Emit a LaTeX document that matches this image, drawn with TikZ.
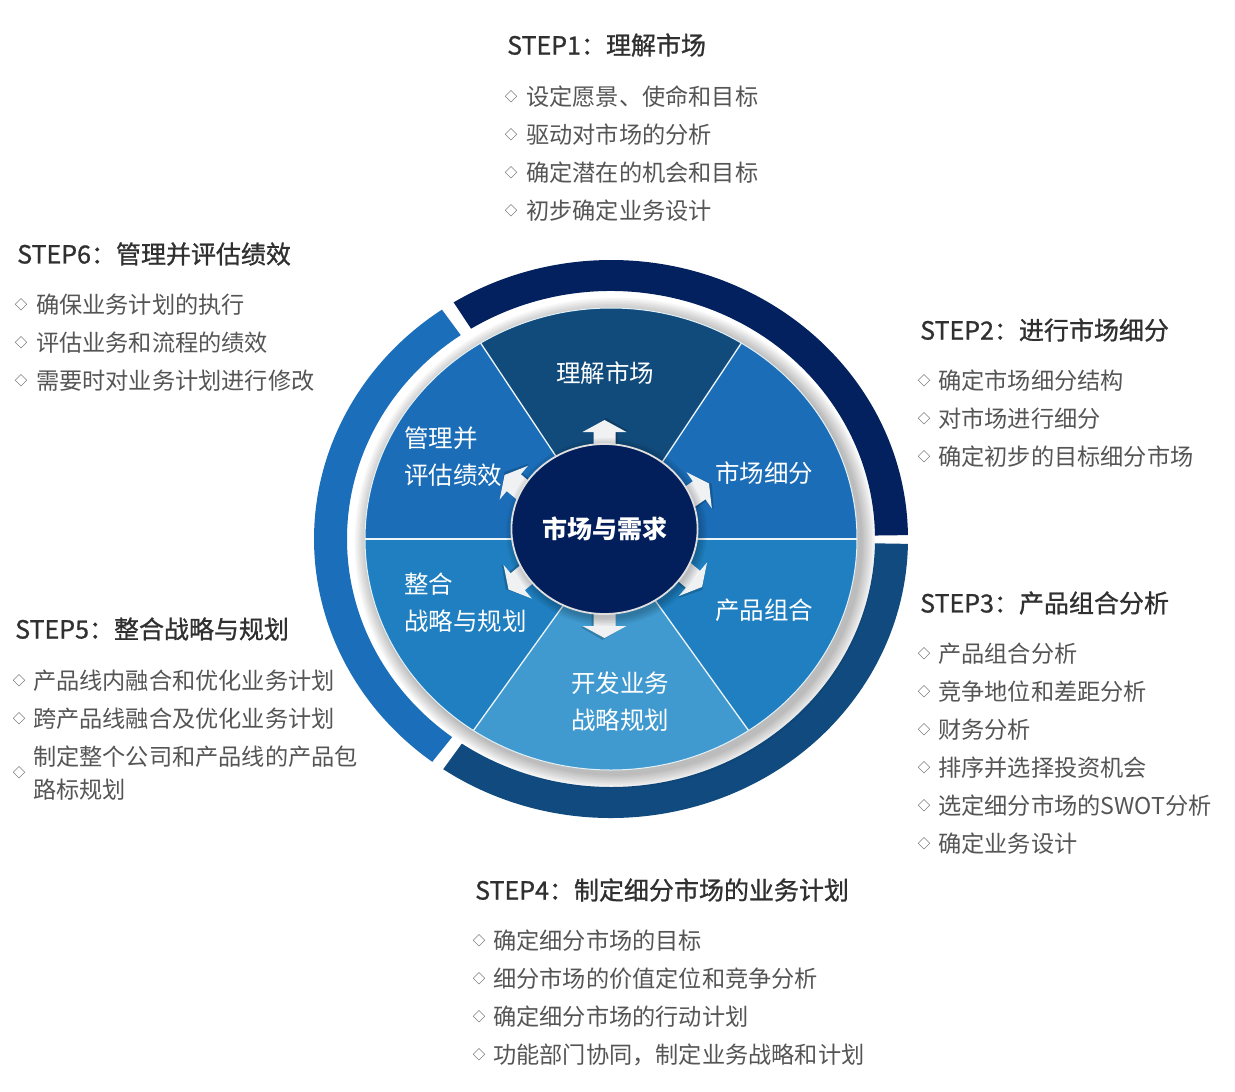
\documentclass[tikz,border=0pt]{standalone}
\usepackage{fontspec}
\setmainfont{Noto Sans CJK SC}
\usetikzlibrary{calc,shapes.geometric}
\definecolor{ringA}{HTML}{03215E}
\definecolor{ringB}{HTML}{104A7E}
\definecolor{ringC}{HTML}{1B6FBA}
\definecolor{secTop}{HTML}{114B7C}
\definecolor{secUp}{HTML}{1B6DB7}
\definecolor{secLow}{HTML}{1F7FC0}
\definecolor{secBot}{HTML}{409AD0}
\definecolor{hubc}{HTML}{021E5B}
\definecolor{headc}{HTML}{303030}
\definecolor{itemc}{HTML}{555555}
\definecolor{arrowc}{HTML}{F0F1F3}
\newcommand\ringseg[3]{\fill[#1] ([shift={(#2:297 and 279)}]W) arc[start angle=#2, end angle=#3, x radius=297, y radius=279] -- ([shift={(#3:264 and 248)}]W) arc[start angle=#3, end angle=#2, x radius=264, y radius=248] -- cycle;}
\newcommand\wheelsec[3]{\fill[#1] (W) -- ([shift={(#2:246 and 231)}]W) arc[start angle=#2, end angle=#3, x radius=246, y radius=231] -- cycle;}
\newcommand\hubarrow[2]{%
  \begin{scope}[shift={($(H)+(#1:91.5 and 85)$)}, rotate=#2]
    \fill[black, opacity=0.18] (-6,-13) -- (13,-13) -- (13,-24) -- (26,-2) -- (13,20) -- (13,9) -- (-6,9) -- cycle;
    \fill[arrowc] (-6,-11) -- (12,-11) -- (12,-22) -- (24,0) -- (12,22) -- (12,11) -- (-6,11) -- cycle;
  \end{scope}}
\begin{document}
\begin{tikzpicture}[x=1pt,y=1pt,
  heading/.style={anchor=west, text=headc, font=\fontsize{25}{28}\selectfont\addfontfeatures{FakeBold=0.9}, inner sep=0},
  item/.style={anchor=west, text=itemc, font=\fontsize{23.2}{33}\selectfont, inner sep=0, align=left},
  bullet/.style={text=itemc!80!black, font=\fontsize{12.5}{12}\selectfont, inner sep=0},
  seclabel/.style={text=white, font=\fontsize{24.5}{37}\selectfont, inner sep=0}]
\useasboundingbox (0,0) rectangle (1235,-1092);
\fill[white] (0,0) rectangle (1235,-1092);
\coordinate (W) at (611,-539);
\coordinate (H) at (604.5,-529);
% outer rings
\ringseg{ringA}{0.8}{122}
\ringseg{ringC}{124.7}{233}
\ringseg{ringB}{235.6}{359}
% wheel shadow
\foreach \i in {1,...,9} \fill[black, opacity=0.03] ([shift={(4,-4)}]W) ellipse[x radius={246+\i*1.6}, y radius={231+\i*1.6}];
% wheel sectors
\wheelsec{secUp}{0}{58}
\wheelsec{secTop}{58}{122}
\wheelsec{secUp}{122}{180}
\wheelsec{secLow}{180}{236}
\wheelsec{secBot}{236}{304}
\wheelsec{secLow}{304}{360}
\foreach \a in {0,58,122,180,236,304} \draw[white!90!secBot, line width=1.3] (W) -- ([shift={(\a:246 and 231)}]W);
\draw[white!85!secBot, line width=1] (W) ellipse[x radius=246, y radius=231];
% arrows
\hubarrow{90}{90}
\hubarrow{270}{270}
\hubarrow{22}{35}
\hubarrow{-30}{-40}
\hubarrow{153}{140}
\hubarrow{212}{220}
% hub
\foreach \i in {1,...,6} \fill[black, opacity=0.04] ([shift={(2,-3)}]H) ellipse[x radius={91.5+\i*1.5}, y radius={85+\i*1.5}];
\node[ellipse, minimum width=183, minimum height=170, fill=hubc, draw=white!75!gray, line width=1.8, text=white, font=\fontsize{25}{28}\selectfont\bfseries] (hub) at (H) {市场与需求};
% sector labels
\node[seclabel] (l1) at (605,-373) {理解市场};
\node[seclabel] (l2) at (764,-473) {市场细分};
\node[seclabel] (l3) at (764,-610) {产品组合};
\node[seclabel, align=center] (l4) at (620,-702) {开发业务\\战略规划};
\node[seclabel, align=left, anchor=west] (l5) at (404,-603) {整合\\战略与规划};
\node[seclabel, align=left, anchor=west] (l6) at (404,-457) {管理并\\评估绩效};
% STEP1
\node[heading] (h1) at (507,-45) {STEP1：理解市场};
\node[bullet] (b11) at (511,-97) {◇}; \node[item] (t11) at (526,-97) {设定愿景、使命和目标};
\node[bullet] (b12) at (511,-135) {◇}; \node[item] (t12) at (526,-135) {驱动对市场的分析};
\node[bullet] (b13) at (511,-173) {◇}; \node[item] (t13) at (526,-173) {确定潜在的机会和目标};
\node[bullet] (b14) at (511,-211) {◇}; \node[item] (t14) at (526,-211) {初步确定业务设计};
% STEP2
\node[heading] (h2) at (920,-330) {STEP2：进行市场细分};
\node[bullet] (b21) at (924,-381) {◇}; \node[item] (t21) at (938,-381) {确定市场细分结构};
\node[bullet] (b22) at (924,-419) {◇}; \node[item] (t22) at (938,-419) {对市场进行细分};
\node[bullet] (b23) at (924,-457) {◇}; \node[item] (t23) at (938,-457) {确定初步的目标细分市场};
% STEP3
\node[heading] (h3) at (920,-603) {STEP3：产品组合分析};
\node[bullet] (b31) at (924,-654) {◇}; \node[item] (t31) at (938,-654) {产品组合分析};
\node[bullet] (b32) at (924,-692) {◇}; \node[item] (t32) at (938,-692) {竞争地位和差距分析};
\node[bullet] (b33) at (924,-730) {◇}; \node[item] (t33) at (938,-730) {财务分析};
\node[bullet] (b34) at (924,-768) {◇}; \node[item] (t34) at (938,-768) {排序并选择投资机会};
\node[bullet] (b35) at (924,-806) {◇}; \node[item] (t35) at (938,-806) {选定细分市场的SWOT分析};
\node[bullet] (b36) at (924,-844) {◇}; \node[item] (t36) at (938,-844) {确定业务设计};
% STEP4
\node[heading] (h4) at (475,-890) {STEP4：制定细分市场的业务计划};
\node[bullet] (b41) at (479,-941) {◇}; \node[item] (t41) at (493,-941) {确定细分市场的目标};
\node[bullet] (b42) at (479,-979) {◇}; \node[item] (t42) at (493,-979) {细分市场的价值定位和竞争分析};
\node[bullet] (b43) at (479,-1017) {◇}; \node[item] (t43) at (493,-1017) {确定细分市场的行动计划};
\node[bullet] (b44) at (479,-1055) {◇}; \node[item] (t44) at (493,-1055) {功能部门协同，制定业务战略和计划};
% STEP5
\node[heading] (h5) at (15,-629) {STEP5：整合战略与规划};
\node[bullet] (b51) at (19,-681) {◇}; \node[item] (t51) at (33,-681) {产品线内融合和优化业务计划};
\node[bullet] (b52) at (19,-719) {◇}; \node[item] (t52) at (33,-719) {跨产品线融合及优化业务计划};
\node[bullet] (b53) at (19,-773) {◇}; \node[item] (t53) at (33,-773) {制定整个公司和产品线的产品包\\路标规划};
% STEP6
\node[heading] (h6) at (17,-254) {STEP6：管理并评估绩效};
\node[bullet] (b61) at (21,-305) {◇}; \node[item] (t61) at (36,-305) {确保业务计划的执行};
\node[bullet] (b62) at (21,-343) {◇}; \node[item] (t62) at (36,-343) {评估业务和流程的绩效};
\node[bullet] (b63) at (21,-381) {◇}; \node[item] (t63) at (36,-381) {需要时对业务计划进行修改};
\end{tikzpicture}
\end{document}
